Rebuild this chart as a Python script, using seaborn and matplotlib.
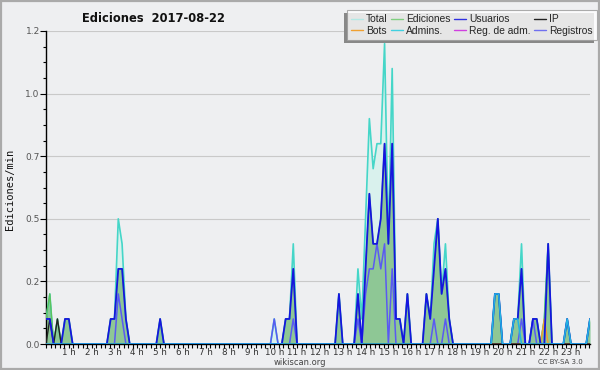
import numpy as np
import pandas as pd
import matplotlib
matplotlib.use("Agg")
import matplotlib.pyplot as plt
import seaborn as sns
from matplotlib.lines import Line2D
from matplotlib.patches import Rectangle

# ---- data: edits per minute in 10-minute slots (slots not listed are 0) ----
slots = [f"{h:02d}:{m:02d}" for h in range(24) for m in range(0, 60, 10)]

total = {"00:00": 0.1, "00:10": 0.2, "00:30": 0.1, "00:50": 0.1, "01:00": 0.1,
         "02:50": 0.1, "03:00": 0.1, "03:10": 0.5, "03:20": 0.4, "03:30": 0.1,
         "05:00": 0.1, "10:00": 0.1, "10:30": 0.1, "10:40": 0.1, "10:50": 0.4,
         "12:50": 0.2, "13:40": 0.3, "13:50": 0.1, "14:00": 0.5, "14:10": 0.9,
         "14:20": 0.7, "14:30": 0.8, "14:40": 0.8, "14:50": 1.2, "15:00": 0.4,
         "15:10": 1.1, "15:20": 0.1, "15:30": 0.1, "15:50": 0.2,
         "16:40": 0.2, "16:50": 0.1, "17:00": 0.4, "17:10": 0.5, "17:20": 0.2,
         "17:30": 0.4, "17:40": 0.1, "19:40": 0.2, "19:50": 0.2,
         "20:30": 0.1, "20:40": 0.1, "20:50": 0.4, "21:20": 0.1, "21:30": 0.1,
         "21:50": 0.1, "22:00": 0.4, "22:50": 0.1, "23:50": 0.1}

ediciones = {"00:00": 0.1, "00:10": 0.2, "00:30": 0.1, "00:50": 0.1, "01:00": 0.1,
             "02:50": 0.1, "03:00": 0.1, "03:10": 0.3, "03:20": 0.3, "03:30": 0.1,
             "05:00": 0.1, "10:30": 0.1, "10:40": 0.1, "10:50": 0.3,
             "12:50": 0.2, "13:40": 0.2, "14:00": 0.3, "14:10": 0.6, "14:20": 0.4,
             "14:30": 0.4, "14:40": 0.5, "14:50": 0.8, "15:00": 0.4, "15:10": 0.8,
             "15:20": 0.1, "15:30": 0.1, "15:50": 0.2,
             "16:40": 0.2, "16:50": 0.1, "17:00": 0.3, "17:10": 0.5, "17:20": 0.2,
             "17:30": 0.3, "17:40": 0.1, "19:40": 0.2, "19:50": 0.2,
             "20:30": 0.1, "20:40": 0.1, "20:50": 0.3, "21:20": 0.1, "21:30": 0.1,
             "21:50": 0.1, "22:00": 0.4, "22:50": 0.1, "23:50": 0.1}

usuarios = {"00:00": 0.1, "00:10": 0.1, "00:50": 0.1, "01:00": 0.1,
            "02:50": 0.1, "03:00": 0.1, "03:10": 0.3, "03:20": 0.3, "03:30": 0.1,
            "05:00": 0.1, "10:30": 0.1, "10:40": 0.1, "10:50": 0.3,
            "12:50": 0.2, "13:40": 0.2, "14:00": 0.3, "14:10": 0.6, "14:20": 0.4,
            "14:30": 0.4, "14:40": 0.5, "14:50": 0.8, "15:00": 0.4, "15:10": 0.8,
            "15:20": 0.1, "15:30": 0.1, "15:50": 0.2,
            "16:40": 0.2, "16:50": 0.1, "17:00": 0.3, "17:10": 0.5, "17:20": 0.2,
            "17:30": 0.3, "17:40": 0.1, "19:40": 0.2, "19:50": 0.2,
            "20:30": 0.1, "20:40": 0.1, "20:50": 0.3, "21:20": 0.1, "21:30": 0.1,
            "22:00": 0.4, "22:50": 0.1, "23:50": 0.1}

ip = {"00:10": 0.1, "00:30": 0.1}
bots = {"21:50": 0.1}
admins = {"19:40": 0.2, "19:50": 0.2, "20:30": 0.1, "20:40": 0.1,
          "22:50": 0.1, "23:50": 0.1}
reg_adm = {}
registros = {"03:10": 0.2, "03:20": 0.1, "10:00": 0.1, "10:50": 0.1,
             "13:40": 0.1, "14:00": 0.2, "14:10": 0.3, "14:20": 0.3, "14:30": 0.4,
             "14:40": 0.3, "14:50": 0.4, "15:10": 0.3, "17:00": 0.1, "17:30": 0.1,
             "20:50": 0.1, "21:20": 0.1}

legend_labels = ["Total", "Ediciones", "Usuarios", "IP",
                 "Bots", "Admins.", "Reg. de adm.", "Registros"]
hour_labels = [f"{h} h" for h in range(1, 24)]
y_ticks = [0, 0.25, 0.5, 0.75, 1.0, 1.25]
y_tick_labels = ["0.0", "0.2", "0.5", "0.7", "1.0", "1.2"]

# ---- build ----
hours = np.array([int(s[:2]) + int(s[3:]) / 60 for s in slots])
def series(d):
    return np.array([d.get(s, 0.0) for s in slots])

df = pd.DataFrame({"hour": hours, "Total": series(total), "Ediciones": series(ediciones),
                   "Usuarios": series(usuarios), "IP": series(ip), "Bots": series(bots),
                   "Admins.": series(admins), "Reg. de adm.": series(reg_adm),
                   "Registros": series(registros)})

sns.set_theme(style="white")
plt.rcParams["font.family"] = ["DejaVu Sans"]

BG = "#eeeff1"
fig = plt.figure(figsize=(6, 3.7), dpi=100, facecolor=BG)
ax = fig.add_axes([46 / 600, 1 - 344 / 370, 544 / 600, 313 / 370])
ax.set_facecolor(BG)

ax.fill_between(df["hour"], df["Total"], color="#d9f1ed", lw=0, zorder=1)
ax.fill_between(df["hour"], df["Ediciones"], color="#8ec795", lw=0, zorder=2)

line_styles = [("Total", "#45d6c8", 1.2), ("Ediciones", "#5cc35c", 1.0),
               ("Registros", "#5a5af2", 1.1), ("Bots", "#f0a030", 1.1),
               ("Reg. de adm.", "#d040e0", 1.0), ("IP", "#222222", 1.0),
               ("Usuarios", "#1515e0", 1.3), ("Admins.", "#22b4e2", 1.1)]
for i, (name, col, lw) in enumerate(line_styles):
    sns.lineplot(data=df, x="hour", y=name, color=col, lw=lw, ax=ax,
                 zorder=3 + i, estimator=None)

ax.set_xlim(0, 143 / 6)
ax.set_ylim(0, 1.25)
ax.set_xlabel("")
ax.set_ylabel("")

ax.set_yticks(y_ticks)
ax.set_yticklabels(y_tick_labels)
ax.set_yticks(np.arange(0, 1.26, 0.0625), minor=True)
ax.yaxis.grid(True, color="#c9c9c9", lw=0.8)
ax.set_axisbelow(True)
ax.set_xticks(range(1, 24))
ax.set_xticklabels(hour_labels)
ax.set_xticks(np.arange(0, 23.9, 0.2), minor=True)

ax.tick_params(axis="y", which="major", direction="out", length=4, width=0.8,
               labelsize=6.5, labelcolor="#555555", pad=0.5, left=True, color="black")
ax.tick_params(axis="y", which="minor", direction="out", length=2, width=0.8,
               left=True, color="black")
ax.tick_params(axis="x", which="both", direction="out", length=3, width=0.8,
               labelsize=6.3, labelcolor="#333333", pad=0.2, bottom=True, color="black")

for s in ["top", "right"]:
    ax.spines[s].set_visible(False)
for s in ["left", "bottom"]:
    ax.spines[s].set_color("black")
    ax.spines[s].set_linewidth(1.0)

# texts
fig.text(154 / 600, 1 - 19 / 370, "Ediciones  2017-08-22", ha="center", va="center",
         fontsize=8.3, fontweight="bold", color="#111111")
fig.text(10 / 600, 1 - 189 / 370, "Ediciones/min", rotation=90, ha="center",
         va="center", fontsize=7.5, family="DejaVu Sans Mono", color="#111111")
fig.text(300 / 600, 1 - 362.5 / 370, "wikiscan.org", ha="center", va="center",
         fontsize=6, color="#444444")
fig.text(560 / 600, 1 - 362.5 / 370, "CC BY-SA 3.0", ha="center", va="center",
         fontsize=5, color="#444444")

# legend
leg_colors = {"Total": "#b3e9e5", "Ediciones": "#80cf80", "Usuarios": "#3030e0",
              "IP": "#222222", "Bots": "#f0a030", "Admins.": "#40d0e0",
              "Reg. de adm.": "#d040e0", "Registros": "#7070f0"}
order = [0, 4, 1, 5, 2, 6, 3, 7]
handles = [Line2D([], [], color=leg_colors[legend_labels[i]], lw=1.0) for i in order]
labels = [legend_labels[i] for i in order]
leg = fig.legend(handles, labels, ncol=4, loc="upper right",
                 bbox_to_anchor=(597 / 600, 1 - 10 / 370),
                 prop={"family": "Liberation Sans", "size": 7.4},
                 frameon=True, fancybox=False, handlelength=1.1, handletextpad=0.35,
                 columnspacing=0.35, labelspacing=0.15, borderpad=0.4,
                 borderaxespad=0)
leg.get_frame().set_facecolor("white")
leg.get_frame().set_edgecolor("#999999")
leg.get_frame().set_linewidth(0.8)
leg.set_zorder(20)

fig.canvas.draw()
bb = leg.get_window_extent().transformed(fig.transFigure.inverted())
dx, dy = 3 / 600, 3 / 370
fig.patches.append(Rectangle((bb.x0 - dx, bb.y0 - dy), bb.width, bb.height,
                             transform=fig.transFigure, facecolor="#888888",
                             edgecolor="none", zorder=19))
fig.patches.append(Rectangle((0.0015, 0.0025), 0.997, 0.995, transform=fig.transFigure,
                             fill=False, edgecolor="#aaaaaa", lw=1.6, zorder=30))

fig.savefig("out.png", dpi=100, facecolor=BG)
